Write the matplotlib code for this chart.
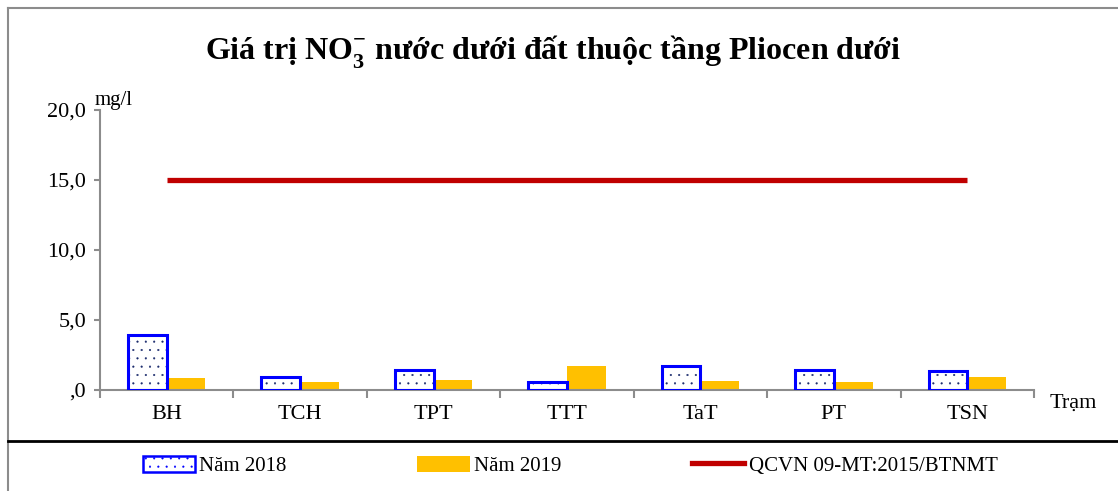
import matplotlib.pyplot as plt
import numpy as np
from matplotlib.patches import Patch
from matplotlib.lines import Line2D

plt.rcParams['font.family'] = ['Liberation Serif', 'DejaVu Serif']
plt.rcParams['hatch.linewidth'] = 0.3

stations = ['BH', 'TCH', 'TPT', 'TTT', 'TaT', 'PT', 'TSN']
no3_2018 = [3.93, 0.9, 1.45, 0.55, 1.74, 1.43, 1.38]
no3_2019 = [0.88, 0.57, 0.69, 1.69, 0.64, 0.57, 0.93]
qcvn_limit = 15.0
yticks = [0, 5, 10, 15, 20]
ytick_labels = [',0', '5,0', '10,0', '15,0', '20,0']

fig = plt.figure(figsize=(11.18, 4.91), dpi=100)
ax = fig.add_axes([100 / 1118, 1 - 390 / 491, 934 / 1118, 280 / 491])

x = np.arange(len(stations))
w = 0.29
axis_gray = '#8c8c8c'

# 2018: white box with dotted fill and blue outline
ax.bar(x - w / 2, no3_2018, w, color='white', edgecolor='#1a2a6c',
       hatch='..', linewidth=0, zorder=2)
ax.bar(x - w / 2, no3_2018, w, color='none', edgecolor='#0000ff',
       linewidth=2.2, zorder=3)
ax.bar(x + w / 2, no3_2019, w, color='#ffc000', edgecolor='none', zorder=2)
ax.plot([x[0], x[-1]], [qcvn_limit, qcvn_limit], color='#c00000',
        linewidth=3.8, solid_capstyle='butt', zorder=4)

ax.set_xlim(-0.5, len(stations) - 0.5)
ax.set_ylim(0, 20)
ax.set_yticks(yticks)
ax.set_yticklabels(ytick_labels, fontsize=16)
ax.set_xticks(np.arange(len(stations) + 1) - 0.5)
ax.set_xticklabels([])
ax.set_xticks(x, minor=True)
ax.set_xticklabels(stations, minor=True, fontsize=16)
ax.tick_params(axis='x', which='major', length=6, width=1.5, color=axis_gray, direction='out')
ax.tick_params(axis='x', which='minor', length=0, pad=11)
ax.tick_params(axis='y', length=4, width=1.5, color=axis_gray, pad=6)

for s in ['top', 'right']:
    ax.spines[s].set_visible(False)
for s in ['left', 'bottom']:
    ax.spines[s].set_color(axis_gray)
    ax.spines[s].set_linewidth(1.5)

fig.text(95 / 1118, 1 - 100 / 491, 'mg/l', fontsize=15, ha='left', va='center')
fig.text(1050 / 1118, 1 - 403 / 491, 'Trạm', fontsize=16, ha='left', va='center')

fig.text(553 / 1118, 1 - 52 / 491,
         'Giá trị NO$_\\mathregular{3}^{\\mathregular{-}}$ nước dưới đất thuộc tầng Pliocen dưới',
         fontsize=23, fontweight='bold', ha='center', va='center')

# chart frame and separator above the legend
fig.add_artist(Line2D([8 / 1118, 8 / 1118], [0, 1 - 8 / 491], color=axis_gray, linewidth=1.5))
fig.add_artist(Line2D([8 / 1118, 1], [1 - 8 / 491, 1 - 8 / 491], color=axis_gray, linewidth=1.5))
fig.add_artist(Line2D([8 / 1118, 1], [1 - 441 / 491, 1 - 441 / 491], color='black', linewidth=2))

handles = [
    Patch(facecolor='white', edgecolor='#0000ff', hatch='..', linewidth=1.8),
    Patch(facecolor='#ffc000', edgecolor='none'),
    Line2D([0], [0], color='#c00000', linewidth=3.8),
]
labels = ['Năm 2018', 'Năm 2019', 'QCVN 09-MT:2015/BTNMT']
fig.legend(handles, labels, loc='center', bbox_to_anchor=(570 / 1118, 1 - 466 / 491),
           ncol=3, frameon=False, fontsize=15, handlelength=2.5, handleheight=0.8,
           handletextpad=0.2, columnspacing=6.3)

fig.savefig('out.png', dpi=100)
